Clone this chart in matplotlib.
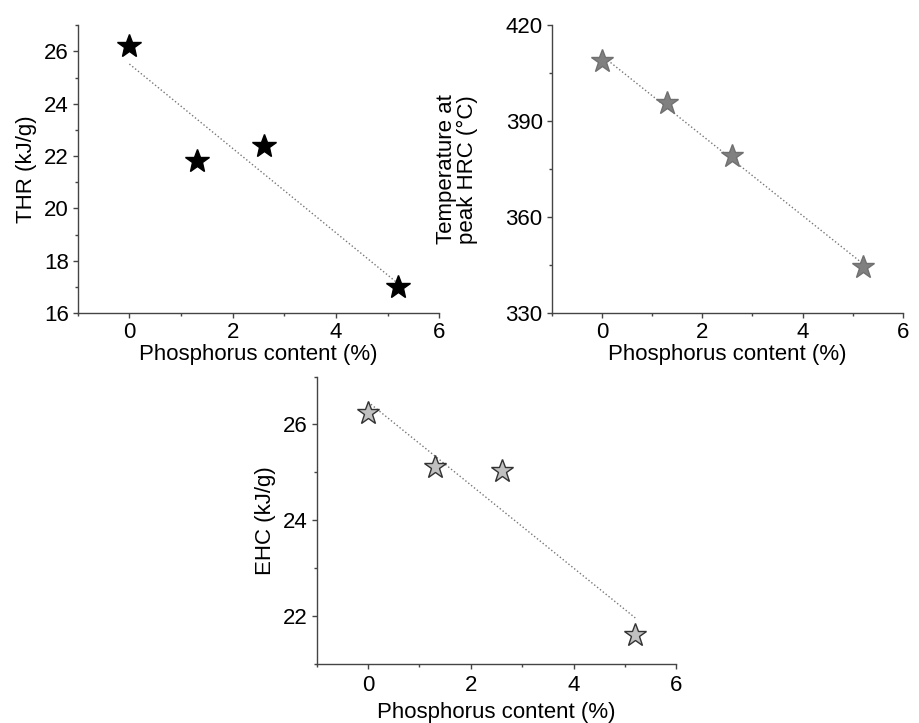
import numpy as np
import matplotlib
matplotlib.use("Agg")
import matplotlib.pyplot as plt
from matplotlib.ticker import MultipleLocator

plt.rcParams["font.family"] = ["Liberation Sans", "DejaVu Sans"]

# data
phos = [0.0, 1.3, 2.6, 5.2]
thr = [26.2, 21.8, 22.4, 17.0]
temp_hrc = [408.8, 395.8, 379.1, 344.5]
ehc = [26.24, 25.11, 25.03, 21.62]

fig = plt.figure(figsize=(9.2, 7.23), dpi=100)

ax1 = fig.add_axes([0.0845, 0.567, 0.393, 0.398])
ax2 = fig.add_axes([0.5997, 0.567, 0.3818, 0.398])
ax3 = fig.add_axes([0.3442, 0.0812, 0.391, 0.398])

TICK_FS = 16
LABEL_FS = 16


def style(ax, ylim, ymaj, ymin, xpad=3, xlabelpad=1):
    ax.set_xlim(-1, 6)
    ax.set_ylim(*ylim)
    ax.xaxis.set_major_locator(MultipleLocator(2))
    ax.xaxis.set_minor_locator(MultipleLocator(1))
    ax.yaxis.set_major_locator(MultipleLocator(ymaj))
    ax.yaxis.set_minor_locator(MultipleLocator(ymin))
    for s in ("top", "right"):
        ax.spines[s].set_visible(False)
    for s in ("left", "bottom"):
        ax.spines[s].set_color("#444444")
        ax.spines[s].set_linewidth(1.0)
    ax.tick_params(which="major", direction="out", length=3.5, width=1,
                   color="#444444", labelsize=TICK_FS, pad=3)
    ax.tick_params(axis="x", which="major", pad=xpad)
    ax.tick_params(which="minor", direction="out", length=2.5, width=1,
                   color="#444444")
    ax.set_xlabel("Phosphorus content (%)", fontsize=LABEL_FS,
                  labelpad=xlabelpad)


def fit_line(ax, x, y):
    p = np.polyfit(x, y, 1)
    xs = np.array([min(x), max(x)])
    ax.plot(xs, np.polyval(p, xs), ":", color="#777777", lw=1.0, zorder=1)


style(ax1, (16, 27), 2, 1)
fit_line(ax1, phos, thr)
ax1.plot(phos, thr, "*", color="black", ms=18, mec="black", zorder=3)
ax1.set_ylabel("THR (kJ/g)", fontsize=LABEL_FS, labelpad=5)

style(ax2, (330, 420), 30, 15)
fit_line(ax2, phos, temp_hrc)
ax2.plot(phos, temp_hrc, "*", color="#808080", ms=17, mec="#707070", zorder=3)
ax2.set_ylabel("Temperature at\npeak HRC (°C)", fontsize=LABEL_FS,
               labelpad=20, linespacing=1.0)

style(ax3, (21, 27), 2, 1, xpad=4.5, xlabelpad=4)
fit_line(ax3, phos, ehc)
ax3.plot(phos, ehc, "*", color="#c0c0c0", ms=17, mec="#333333", mew=1.0,
         zorder=3)
ax3.set_ylabel("EHC (kJ/g)", fontsize=LABEL_FS, labelpad=5)

fig.savefig("out.png", dpi=100)
